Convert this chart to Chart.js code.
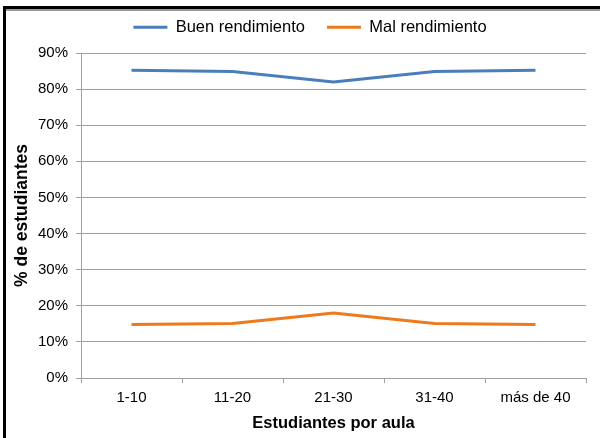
<!DOCTYPE html>
<html>
<head>
<meta charset="utf-8">
<script src="https://cdn.jsdelivr.net/npm/chart.js@4.4.1/dist/chart.umd.min.js"></script>
<style>
  html, body { margin: 0; padding: 0; background: #fff; }
  #wrap { position: relative; width: 600px; height: 438px; overflow: hidden; }
  #frame { position: absolute; left: 3px; top: 6px; width: 700px; height: 500px;
           border-top: 3px solid #000; border-left: 3px solid #000; pointer-events: none; }
  #shade { position: absolute; left: 6px; top: 9px; width: 700px; height: 2px; background: #9a9a9a; pointer-events: none; }
</style>
</head>
<body>
<div id="wrap">
  <canvas id="c"></canvas>
  <div id="frame"></div>
  <div id="shade"></div>
</div>
<script>
const categories = ['1-10', '11-20', '21-30', '31-40', 'más de 40'];
const buenRendimiento = [85.2, 84.9, 82.0, 84.9, 85.2];
const malRendimiento = [14.8, 15.1, 18.0, 15.1, 14.8];
const seriesNames = ['Buen rendimiento', 'Mal rendimiento'];
const yTitle = '% de estudiantes';
const xTitle = 'Estudiantes por aula';

const FONT = "'Liberation Sans', Arial, sans-serif";
const GRID = '#a0a0a0';

const layoutTweaks = {
  id: 'layoutTweaks',
  beforeLayout(chart) {
    const lg = chart.legend;
    if (lg && !lg._patched) {
      const f = lg.fit;
      lg.fit = function () { f.call(this); this.height = 53; };
      lg._patched = true;
    }
  },
  afterLayout(chart) {
    const lg = chart.legend;
    if (lg) { lg.left += 17; lg.right += 17; lg.top -= 3; lg.bottom -= 3; }
  }
};

new Chart(document.getElementById('c'), {
  type: 'line',
  data: {
    labels: categories,
    datasets: [
      { label: seriesNames[0], data: buenRendimiento, borderColor: '#4a7ebb', backgroundColor: '#4a7ebb',
        borderWidth: 3, pointRadius: 0, pointStyle: 'line', tension: 0 },
      { label: seriesNames[1], data: malRendimiento, borderColor: '#ee7a1e', backgroundColor: '#ee7a1e',
        borderWidth: 3, pointRadius: 0, pointStyle: 'line', tension: 0 }
    ]
  },
  options: {
    responsive: true,
    maintainAspectRatio: false,
    animation: false,
    devicePixelRatio: 1,
    layout: { padding: { left: 0, right: 14, top: 0, bottom: 0 } },
    plugins: {
      legend: {
        position: 'top',
        align: 'center',
        labels: {
          usePointStyle: true, pointStyle: 'line', pointStyleWidth: 34, boxWidth: 34,
          padding: 22, color: '#000', font: { family: FONT, size: 16.5 }
        }
      },
      tooltip: { enabled: false }
    },
    scales: {
      x: {
        offset: true,
        grid: { display: true, drawOnChartArea: false, drawTicks: true, tickLength: 5, offset: true, color: GRID },
        border: { display: true, color: GRID, width: 1 },
        ticks: { color: '#000', padding: 6, font: { family: FONT, size: 15 }, maxRotation: 0 },
        title: { display: true, text: xTitle, color: '#000', font: { family: FONT, size: 16.5, weight: 'bold' },
                 padding: { top: 0, bottom: 5 } },
        afterFit(s) { s.height = 60; }
      },
      y: {
        min: 0, max: 90,
        grid: { color: GRID, drawTicks: true, tickLength: 5 },
        border: { display: true, color: GRID, width: 1 },
        ticks: { stepSize: 10, color: '#000', padding: 8, font: { family: FONT, size: 15 },
                 callback: v => v + '%' },
        title: { display: true, text: yTitle, color: '#000', font: { family: FONT, size: 17.5, weight: 'bold' },
                 padding: { top: 12, bottom: 0 } },
        afterFit(s) { s.width = 81; }
      }
    }
  },
  plugins: [layoutTweaks]
});
</script>
</body>
</html>
